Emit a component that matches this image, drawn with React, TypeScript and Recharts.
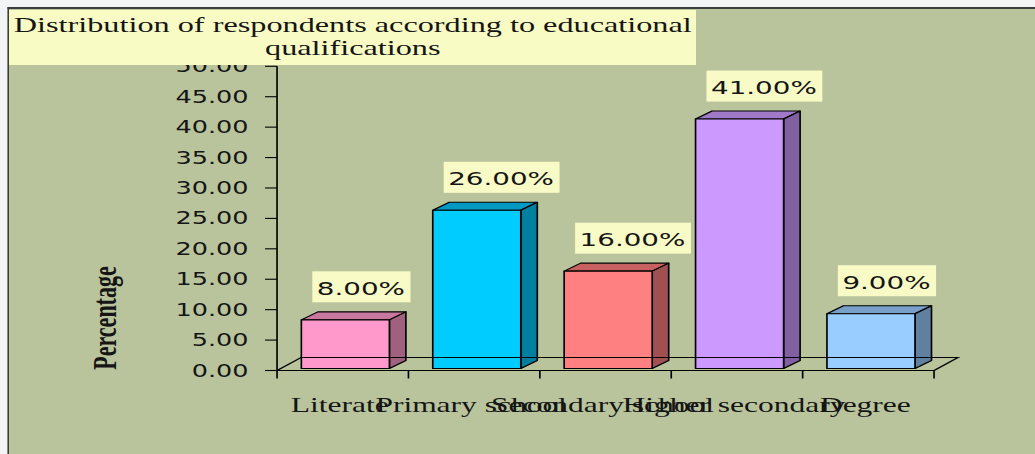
import { Bar, BarChart, LabelList, ReferenceLine, XAxis, YAxis } from "recharts";

// values
const categories = ["Literate", "Primary school", "Secondary school", "Higher secondary", "Degree"];
const percentages = [8, 26, 16, 41, 9];
const yTicks = [0, 5, 10, 15, 20, 25, 30, 35, 40, 45, 50];

const data = categories.map((name, i) => ({ name, value: percentages[i] }));

// front / top / side shades for each bar
const palette = [
  { front: "#ff99cc", top: "#c8779f", side: "#a0607f" },
  { front: "#00ccff", top: "#0099c4", side: "#007fa0" },
  { front: "#ff8080", top: "#c86262", side: "#a05050" },
  { front: "#cc99ff", top: "#a07ac8", side: "#8060a0" },
  { front: "#99ccff", top: "#78a0c8", side: "#6080a0" },
];

// the original picture is stretched horizontally, so everything is drawn narrow and scaled
const STRETCH = 1.5;
const W = 1035 / STRETCH;
const H = 454;

const DX = 11; // bar depth
const DY = 8;
const FDX = 16; // floor depth
const FDY = 13;
const SHIFT = 2.2;
const LIFT = 2;

const SANS = "DejaVu Sans, Verdana, sans-serif";
const SERIF = "Liberation Serif, Times New Roman, serif";

const charW: Record<string, number> = { ".": 0.318, "%": 0.95 };
function textWidth(s: string, size: number) {
  let w = 0;
  for (const ch of s) w += charW[ch] ?? 0.636;
  return w * size;
}

function Bar3D(props: any) {
  const { x, y, width, height, index } = props;
  const c = palette[index % palette.length];
  const fx = x + SHIFT;
  const fy = y - LIFT;
  const r = fx + width;
  const b = fy + height;
  return (
    <g stroke="#000" strokeWidth={1.1} strokeLinejoin="round">
      <polygon points={`${fx},${fy} ${fx + DX},${fy - DY} ${r + DX},${fy - DY} ${r},${fy}`} fill={c.top} />
      <polygon points={`${r},${fy} ${r + DX},${fy - DY} ${r + DX},${b - DY} ${r},${b}`} fill={c.side} />
      <rect x={fx} y={fy} width={width} height={height} fill={c.front} />
    </g>
  );
}

function ValueLabel(props: any) {
  const { x, y, value } = props;
  const text = `${Number(value).toFixed(2)}%`;
  const size = 18.5;
  const tw = textWidth(text, size);
  const left = x + SHIFT + 7.3;
  const bottom = y - LIFT - 17.5;
  return (
    <g>
      <rect x={left} y={bottom - 31} width={tw + 6.7} height={31} fill="#f9fbc6" />
      <text x={left + 3} y={bottom - 7.7} fontFamily={SANS} fontSize={size} fill="#151515">
        {text}
      </text>
    </g>
  );
}

function CategoryTick(props: any) {
  const { x, y, payload, index } = props;
  const half = payload?.offset || 43.8;
  const last = index === categories.length - 1;
  return (
    <g>
      <line x1={x - half} y1={y} x2={x - half} y2={y + 8} stroke="#000" strokeWidth={1.1} />
      {last && <line x1={x + half} y1={y} x2={x + half} y2={y + 8} stroke="#000" strokeWidth={1.1} />}
      <text x={x - 2} y={y + 42} textAnchor="middle" fontFamily={SERIF} fontSize={21} fill="#151515">
        {payload.value}
      </text>
    </g>
  );
}

function Floor(props: any) {
  const { x1, y1, x2 } = props;
  return (
    <path
      d={`M${x1},${y1} L${x1 + FDX},${y1 - FDY} L${x2 + FDX},${y1 - FDY} L${x2},${y1}`}
      fill="none"
      stroke="#000"
      strokeWidth={1.1}
    />
  );
}

function AxisTitle(props: any) {
  const vb = props?.viewBox ?? { x: 124.7, y: 66.3, width: 60, height: 304.2 };
  const cx = vb.x + vb.width - 115;
  const cy = vb.y + vb.height - 52.5;
  return (
    <text
      x={cx}
      y={cy}
      transform={`rotate(-90 ${cx} ${cy})`}
      textAnchor="middle"
      dominantBaseline="central"
      fontFamily={SERIF}
      fontWeight="bold"
      fontSize={22}
      fill="#151515"
    >
      Percentage
    </text>
  );
}

export default function App() {
  return (
    <div style={{ position: "absolute", left: 0, top: 0, width: 1035, height: 454, overflow: "hidden", background: "#f3f4f6" }}>
      <div
        style={{
          position: "absolute",
          left: 0,
          top: 0,
          width: W,
          height: H,
          transform: `scaleX(${STRETCH})`,
          transformOrigin: "0 0",
        }}
      >
        <div
          style={{
            position: "absolute",
            left: 4.5,
            top: 7,
            width: W + 20,
            height: H + 20,
            background: "#b9c49c",
            borderLeft: "1.7px solid #3c3c3c",
            borderTop: "2.5px solid #3c3c3c",
          }}
        />
        <div style={{ position: "absolute", left: 0, top: 0 }}>
          <BarChart width={W} height={H} data={data} margin={{ top: 66.3, right: 67.3, bottom: 53.5, left: 124.7 }}>
            <ReferenceLine y={0} shape={Floor} />
            <XAxis
              dataKey="name"
              interval={0}
              height={30}
              tickSize={0}
              tickMargin={0}
              tickLine={false}
              axisLine={{ stroke: "#000", strokeWidth: 1.1 }}
              tick={CategoryTick}
            />
            <YAxis
              domain={[0, 50]}
              ticks={yTicks}
              width={60}
              tickSize={8}
              tickMargin={11}
              tickFormatter={(v: number) => v.toFixed(2)}
              tick={{ fill: "#151515", fontSize: 17, fontFamily: SANS }}
              tickLine={{ stroke: "#000", strokeWidth: 1.1 }}
              axisLine={{ stroke: "#000", strokeWidth: 1.1 }}
              label={AxisTitle}
            />
            <Bar dataKey="value" barSize={58.7} shape={Bar3D} isAnimationActive={false}>
              <LabelList dataKey="value" content={ValueLabel} />
            </Bar>
          </BarChart>
        </div>
        <div
          style={{
            position: "absolute",
            left: 6.2,
            top: 9.5,
            width: 458,
            height: 55.5,
            boxSizing: "border-box",
            paddingTop: 4.7,
            background: "#f9fbc4",
            fontFamily: SERIF,
            fontSize: 21.5,
            lineHeight: "23px",
            color: "#151515",
            textAlign: "center",
            whiteSpace: "nowrap",
          }}
        >
          Distribution of respondents according to educational
          <br />
          qualifications
        </div>
      </div>
    </div>
  );
}
